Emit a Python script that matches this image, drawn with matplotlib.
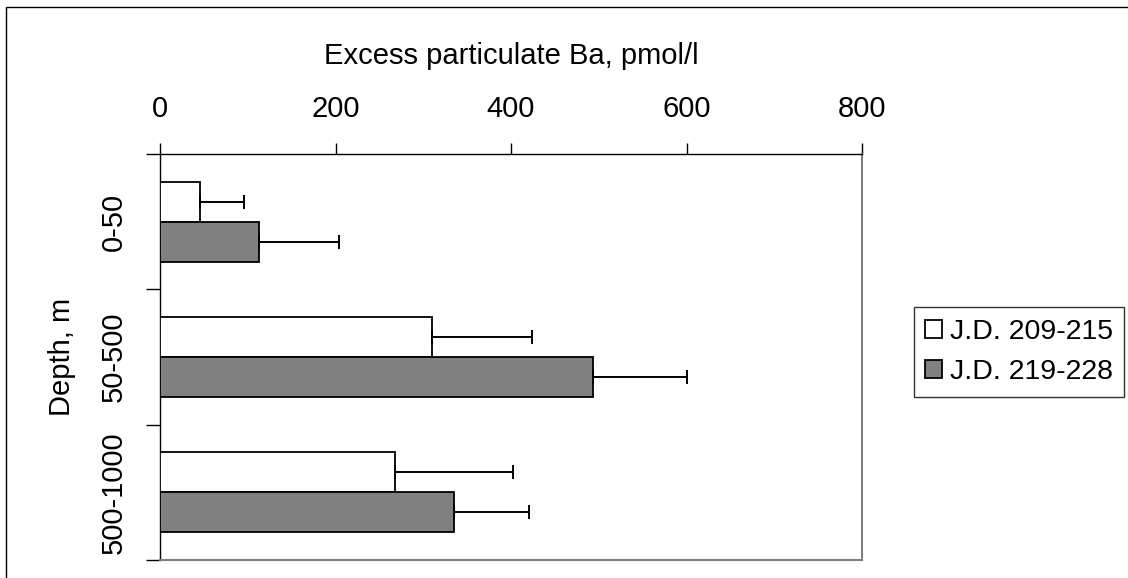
import matplotlib
matplotlib.use("Agg")
import matplotlib.pyplot as plt
import numpy as np
from matplotlib.patches import Rectangle

plt.rcParams['font.family'] = ['Liberation Sans', 'DejaVu Sans']

categories = ["0-50", "50-500", "500-1000"]
series_names = ["J.D. 209-215", "J.D. 219-228"]
values_209 = [46, 310, 268]
errors_209 = [50, 114, 134]
values_219 = [113, 493, 335]
errors_219 = [91, 108, 85]
xticks = [0, 200, 400, 600, 800]

W, H = 1128, 578
FS = 21
fig = plt.figure(figsize=(W/100, H/100), dpi=100)
fig.patch.set_facecolor('white')

# outer frame
fig.add_artist(Rectangle((6/W, -0.1), 1.2, 1 - 7/H + 0.1, transform=fig.transFigure,
                         fill=False, edgecolor='black', linewidth=1.0))

left, right, top, bottom = 160, 862, 154, 560
ax = fig.add_axes([left/W, 1 - bottom/H, (right-left)/W, (bottom-top)/H])

y = np.arange(len(categories))
h = 40/135
off = 20/135
ekw = dict(ecolor='black', elinewidth=1.4, capsize=5, capthick=1.4)
ax.barh(y - off, values_209, height=h, color='white', edgecolor='black', linewidth=1.3,
        xerr=[np.zeros(3), errors_209], error_kw=ekw, label=series_names[0], zorder=3)
ax.barh(y + off, values_219, height=h, color='#808080', edgecolor='black', linewidth=1.3,
        xerr=[np.zeros(3), errors_219], error_kw=ekw, label=series_names[1], zorder=3)

ax.set_xlim(0, 800)
ax.set_ylim(2.5, -0.5)
ax.xaxis.tick_top()
ax.xaxis.set_label_position('top')
ax.set_xticks(xticks)
ax.set_xticklabels([str(t) for t in xticks], fontsize=FS)
ax.tick_params(axis='x', direction='out', length=8, width=1, pad=14)
ax.set_xlabel("Excess particulate Ba, pmol/l", fontsize=FS, labelpad=23)

ax.set_yticks([-0.5, 0.5, 1.5, 2.5])
ax.set_yticklabels([])
ax.set_yticks(y, minor=True)
ax.set_yticklabels(categories, minor=True, rotation=90, va='center', fontsize=FS)
ax.tick_params(axis='y', which='major', direction='out', length=10, width=1)
ax.tick_params(axis='y', which='minor', length=0, pad=23)
ax.set_ylabel("Depth, m", fontsize=FS, labelpad=17)

for s in ['top', 'left']:
    ax.spines[s].set_color('black')
    ax.spines[s].set_linewidth(1.0)
for s in ['right', 'bottom']:
    ax.spines[s].set_color('#808080')
    ax.spines[s].set_linewidth(1.5)

leg = ax.legend(loc='center left', bbox_to_anchor=(914/W, 1 - 352/H), bbox_transform=fig.transFigure,
                prop=dict(size=20.5), frameon=True, fancybox=False, edgecolor='black', handlelength=0.6,
                handleheight=0.6, handletextpad=0.25, borderpad=0.4, labelspacing=0.5, borderaxespad=0)
leg.get_frame().set_linewidth(1.0)

fig.savefig("out.png", dpi=100)
